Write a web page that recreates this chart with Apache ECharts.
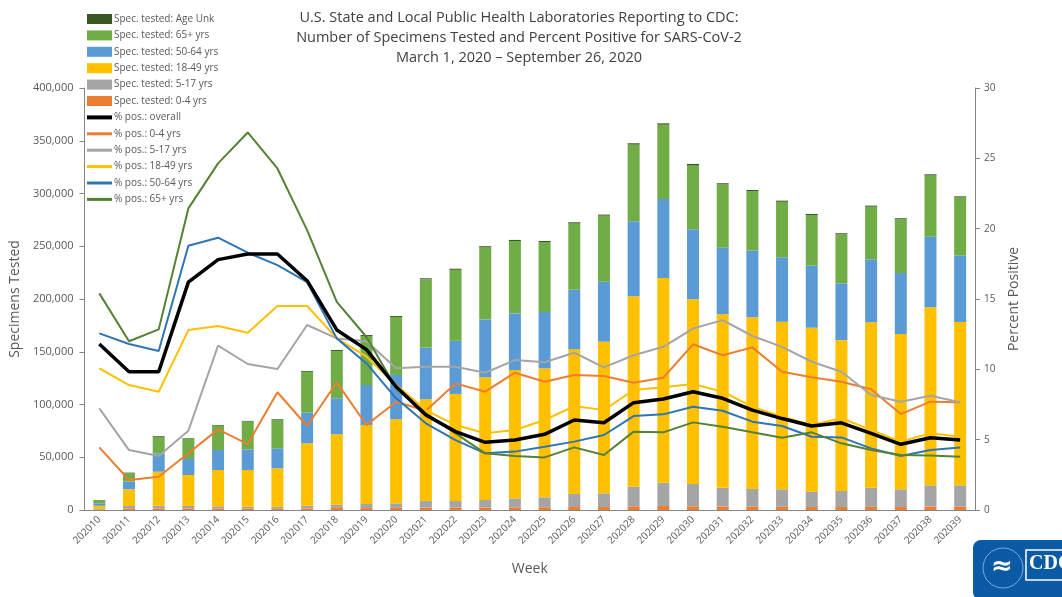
<!DOCTYPE html>
<html>
<head>
<meta charset="utf-8">
<script src="https://cdn.jsdelivr.net/npm/echarts@6/dist/echarts.min.js"></script>
<style>
  html, body { margin: 0; padding: 0; background: #fff; }
  #chart { width: 1062px; height: 597px; }
</style>
</head>
<body>
<div id="chart"></div>
<script>
  // week labels
  const weeks = ['202010', '202011', '202012', '202013', '202014', '202015', '202016', '202017', '202018', '202019',
    '202020', '202021', '202022', '202023', '202024', '202025', '202026', '202027', '202028', '202029',
    '202030', '202031', '202032', '202033', '202034', '202035', '202036', '202037', '202038', '202039'];

  // specimens tested by age group (stacked bars)
  const spec04 = [300, 1200, 1400, 1200, 1300, 1200, 1200, 1500, 2000, 1800, 2000, 2200, 2300, 2400, 2500,
    2600, 2800, 2800, 3500, 3800, 3500, 3200, 3000, 3000, 2800, 2800, 3000, 2800, 3200, 3000];
  const spec517 = [700, 2600, 2600, 2600, 2200, 1800, 1800, 2500, 3000, 3900, 4300, 6300, 6200, 7100, 8500,
    9400, 12400, 13000, 18500, 22100, 21100, 17800, 17000, 16600, 14600, 15200, 18000, 16800, 20200, 20400];
  const spec1849 = [3000, 15800, 32300, 29400, 34400, 34900, 36500, 59200, 66800, 74900, 79700, 96500, 101500, 116300, 121700,
    122300, 137100, 143700, 180500, 194100, 175100, 164500, 162600, 158900, 155400, 143000, 156900, 147200, 168700, 154800];
  const spec5064 = [2300, 7300, 17400, 15100, 19000, 19600, 19000, 29000, 34100, 37900, 42000, 49000, 50500, 54900, 53700,
    53400, 56500, 56900, 71100, 74800, 66300, 63200, 63200, 61000, 58800, 53900, 59700, 57800, 66900, 63000];
  const spec65 = [3000, 8000, 15600, 19000, 23100, 26300, 26900, 38800, 44900, 46500, 55000, 64600, 67200, 68300, 68600,
    66300, 62900, 62600, 72800, 70500, 60900, 60000, 56500, 52700, 48000, 46500, 49900, 50900, 58100, 55100];
  const specUnk = [200, 500, 700, 600, 600, 600, 600, 800, 900, 900, 900, 1000, 1000, 1000, 1000,
    1000, 1000, 1000, 1200, 1200, 1100, 1000, 1000, 1000, 1000, 900, 1000, 1000, 1100, 1000];

  // percent positive
  const posOverall = [11.8, 9.83, 9.83, 16.2, 17.8, 18.2, 18.2, 16.3, 12.8, 11.4, 8.76, 6.75, 5.57, 4.81, 4.97,
    5.38, 6.4, 6.2, 7.63, 7.89, 8.41, 7.94, 7.1, 6.5, 5.97, 6.2, 5.45, 4.67, 5.14, 4.97];
  const pos04 = [4.45, 2.13, 2.37, 4.03, 5.73, 4.69, 8.37, 5.97, 9.07, 6.04, 7.7, 7.06, 9.0, 8.41, 9.76,
    9.12, 9.6, 9.52, 9.05, 9.4, 11.78, 11.0, 11.56, 9.83, 9.43, 9.12, 8.58, 6.82, 7.7, 7.66];
  const pos517 = [7.23, 4.26, 3.84, 5.64, 11.68, 10.38, 10.02, 13.15, 12.2, 12.0, 10.07, 10.19, 10.19, 9.76, 10.66,
    10.5, 11.18, 10.14, 11.0, 11.6, 12.9, 13.5, 12.37, 11.6, 10.54, 9.83, 8.17, 7.7, 8.12, 7.66];
  const pos1849 = [10.07, 8.88, 8.41, 12.79, 13.08, 12.6, 14.5, 14.5, 12.2, 10.9, 8.88, 7.1, 6.04, 5.45, 5.69,
    6.4, 7.39, 7.1, 8.53, 8.72, 8.96, 8.41, 7.34, 6.63, 6.04, 6.52, 5.69, 4.86, 5.45, 5.21];
  const pos5064 = [12.56, 11.8, 11.3, 18.79, 19.36, 18.29, 17.41, 16.2, 12.2, 10.42, 7.94, 6.16, 4.97, 4.03, 4.15,
    4.5, 4.86, 5.33, 6.68, 6.8, 7.34, 7.06, 6.28, 5.97, 5.21, 5.16, 4.38, 3.84, 4.26, 4.45];
  const pos65 = [15.4, 12.0, 12.84, 21.44, 24.64, 26.84, 24.28, 19.9, 14.8, 12.3, 8.65, 6.87, 5.45, 4.03, 3.84,
    3.74, 4.45, 3.91, 5.57, 5.52, 6.23, 5.92, 5.52, 5.14, 5.52, 4.74, 4.26, 3.91, 3.87, 3.79];

  const textColor = '#595959';
  const axisColor = '#868686';
  const fontFam = 'Open Sans';

  const chart = echarts.init(document.getElementById('chart'));

  const bar = (name, data, color) => ({
    name, type: 'bar', stack: 'spec', data, barWidth: 12,
    itemStyle: { color },
    emphasis: { disabled: true }
  });
  const line = (name, data, color, width) => ({
    name, type: 'line', yAxisIndex: 1, data, symbol: 'none',
    lineStyle: { color, width }, itemStyle: { color },
    emphasis: { disabled: true }, z: 3
  });

  const specNames = ['Spec. tested: Age Unk', 'Spec. tested: 65+ yrs', 'Spec. tested: 50-64 yrs', 'Spec. tested: 18-49 yrs',
    'Spec. tested: 5-17 yrs', 'Spec. tested: 0-4 yrs'];
  const posNames = ['% pos.: overall', '% pos.: 0-4 yrs', '% pos.: 5-17 yrs', '% pos.: 18-49 yrs', '% pos.: 50-64 yrs', '% pos.: 65+ yrs'];
  const legendData = specNames.map(n => ({ name: n, icon: 'rect' }))
    .concat(posNames.map(n => ({
      name: n,
      itemStyle: { opacity: 0 },
      lineStyle: { width: n === '% pos.: overall' ? 4 : 3 }
    })));

  const option = {
    animation: false,
    textStyle: { fontFamily: fontFam },
    title: {
      text: 'U.S. State and Local Public Health Laboratories Reporting to CDC:\nNumber of Specimens Tested and Percent Positive for SARS-CoV-2\nMarch 1, 2020 \u2013 September 26, 2020',
      left: 514, top: 3, textAlign: 'center',
      textStyle: { fontSize: 14.5, fontWeight: 'normal', color: '#404040', lineHeight: 20, fontFamily: fontFam }
    },
    legend: {
      orient: 'vertical', left: 85, top: 9, padding: [5, 0, 5, 0], itemGap: 6.4, itemWidth: 25, itemHeight: 10,
      textStyle: { fontSize: 10, color: textColor, fontFamily: fontFam, padding: [0, 0, 0, -3] },
      data: legendData
    },
    grid: { left: 75, right: 87, top: 88, bottom: 87 },
    xAxis: {
      type: 'category', data: weeks,
      name: 'Week', nameLocation: 'middle', nameGap: 52,
      nameTextStyle: { fontSize: 14, color: textColor },
      axisLine: { lineStyle: { color: axisColor } },
      axisTick: { alignWithLabel: false, length: 4, lineStyle: { color: '#404040' } },
      axisLabel: { rotate: 45, fontSize: 10, color: textColor, interval: 0, margin: 8 }
    },
    yAxis: [{
      type: 'value', min: 0, max: 400000, interval: 50000,
      name: 'Specimens Tested', nameLocation: 'middle', nameGap: 57,
      nameTextStyle: { fontSize: 14, color: textColor },
      axisLine: { show: true, lineStyle: { color: axisColor } },
      axisTick: { show: true, length: 5, lineStyle: { color: axisColor } },
      splitLine: { show: false },
      axisLabel: { fontSize: 11, color: textColor, margin: 11, formatter: v => v.toLocaleString('en-US') }
    }, {
      type: 'value', min: 0, max: 30, interval: 5,
      name: 'Percent Positive', nameLocation: 'middle', nameGap: 32,
      nameTextStyle: { fontSize: 14, color: textColor },
      axisLine: { show: true, lineStyle: { color: axisColor } },
      axisTick: { show: true, length: 5, lineStyle: { color: axisColor } },
      splitLine: { show: false },
      axisLabel: { fontSize: 10, color: textColor, margin: 9 }
    }],
    series: [
      bar('Spec. tested: 0-4 yrs', spec04, '#ED7D31'),
      bar('Spec. tested: 5-17 yrs', spec517, '#A5A5A5'),
      bar('Spec. tested: 18-49 yrs', spec1849, '#FFC000'),
      bar('Spec. tested: 50-64 yrs', spec5064, '#5B9BD5'),
      bar('Spec. tested: 65+ yrs', spec65, '#70AD47'),
      bar('Spec. tested: Age Unk', specUnk, '#375623'),
      line('% pos.: 0-4 yrs', pos04, '#ED7D31', 2),
      line('% pos.: 5-17 yrs', pos517, '#A5A5A5', 2),
      line('% pos.: 18-49 yrs', pos1849, '#FFC000', 2),
      line('% pos.: 50-64 yrs', pos5064, '#2E75B6', 2),
      line('% pos.: 65+ yrs', pos65, '#548235', 2),
      line('% pos.: overall', posOverall, '#000000', 3.5)
    ],
    graphic: [{
      type: 'group', left: 973, top: 540,
      children: [
        { type: 'rect', shape: { x: 0, y: 0, width: 100, height: 60, r: 8 }, style: { fill: '#0B5AA5' } },
        { type: 'circle', shape: { cx: 30, cy: 28, r: 20 }, style: { fill: 'none', stroke: '#9dbde0', lineWidth: 0.8 } },
        { type: 'text', left: 18, top: 14, style: { text: '\u2248', fill: '#fff', font: 'bold 26px DejaVu Sans' } },
        { type: 'rect', shape: { x: 53, y: 10, width: 44, height: 30 }, style: { fill: '#0B5AA5', stroke: '#fff', lineWidth: 1.5 } },
        { type: 'text', left: 56, top: 14, style: { text: 'CDC', fill: '#fff', font: 'bold 20px Liberation Serif' } }
      ]
    }]
  };

  chart.setOption(option);
</script>
</body>
</html>
